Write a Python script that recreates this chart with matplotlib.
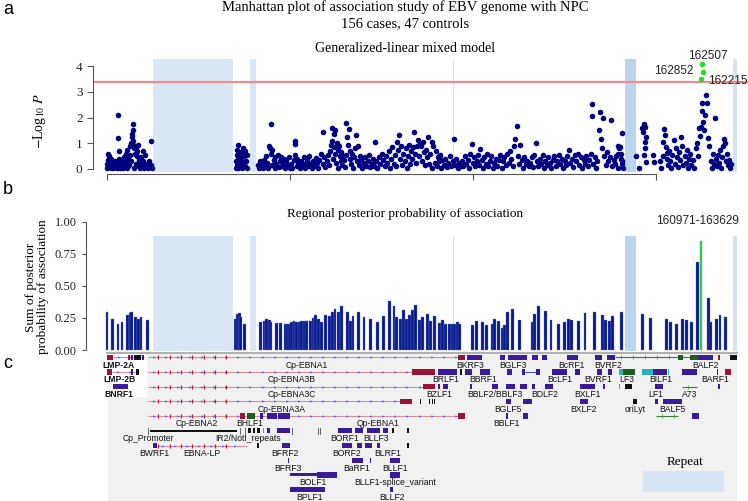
import numpy as np
import matplotlib
matplotlib.use('Agg')
import matplotlib.pyplot as plt
from matplotlib.patches import Rectangle

W, H = 748, 501
plt.rcParams['mathtext.fontset'] = 'stix'
SERIF = 'Liberation Serif'
SANS = 'Liberation Sans'

# ------------------------------------------------------------------ data
# repeat regions (kb)
repeat_regions = [(12.5, 34.5), (39.2, 40.6), (94.5, 94.8), (141.5, 144.5), (171.0, 172.2)]
repeat_shade = ['#d9e7f4', '#d9e7f4', '#d3e3f3', '#bcd5ee', '#d3e3f3']

# panel a: SNP positions (kb) and -log10 P, grouped by genome region
snp_region1 = [(0.0,0.05),(0.0,0.2),(0.2,0.35),(0.3,0.6),(0.5,0.5),(0.6,0.1),(0.8,0.3),(1.0,0.02),(1.2,0.4),
    (1.3,0.15),(1.6,0.05),(1.8,0.25),(2.0,0.08),(2.2,0.33),(2.4,0.2),(2.6,0.02),(2.8,0.12),(3.0,0.3),(3.1,2.09),
    (3.1,1.19),(3.2,0.71),(3.4,0.4),(3.5,0.05),(3.7,0.22),(3.9,0.13),(4.1,0.35),(4.3,0.02),(4.5,0.18),(4.7,0.45),
    (4.9,0.1),(5.1,0.28),(5.3,0.6),(5.5,0.05),(5.6,0.75),(5.8,0.4),(6.0,0.15),(6.2,0.9),(6.3,0.55),(6.5,1.0),
    (6.6,0.3),(6.8,1.23),(6.9,1.36),(7.0,1.5),(7.1,1.1),(7.2,1.75),(7.3,0.8),(7.4,0.02),(7.6,0.9),(7.7,0.6),
    (7.9,0.84),(8.0,0.2),(8.1,0.71),(8.3,0.52),(8.5,0.95),(8.6,0.1),(8.8,0.35),(9.0,0.05),(9.2,0.25),(9.4,0.45),
    (9.6,0.12),(9.8,0.3),(9.9,0.7),(10.0,0.02),(10.3,0.2),(10.4,0.55),(10.6,0.08),(10.9,0.18),(11.2,0.05),
    (11.5,0.3),(12.0,1.08),(12.0,0.15),(12.3,0.02)]
snp_region2 = [(35.3,0.05),(35.3,0.3),(35.4,0.55),(35.5,0.15),(35.6,0.74),(35.7,0.4),(35.8,0.93),(35.9,0.02),
    (36.0,0.2),(36.1,0.6),(36.2,0.45),(36.4,0.1),(36.5,0.35),(36.6,0.65),(36.8,0.02),(37.0,0.25),(37.2,0.8),
    (37.4,0.5),(37.6,0.1),(37.8,0.7),(38.0,0.3),(38.2,0.05),(38.3,0.55)]
snp_region3 = [(41.3,0.15),(41.5,0.05),(41.8,0.3),(42.0,0.08),(42.3,0.2),(42.6,0.02),(42.9,0.35),(43.2,0.12),
    (43.5,0.5),(43.7,0.25),(44.0,0.05),(44.2,0.9),(44.5,0.8),(44.8,1.74),(44.8,0.6),(45.0,0.15),(45.2,0.72),
    (45.5,0.35),(45.8,0.02),(46.0,0.45),(46.3,0.2),(46.6,0.55),(46.9,0.08),(47.2,0.3),(47.5,0.45),(47.8,0.1),
    (48.1,0.25),(48.4,0.38),(48.7,0.02),(49.0,0.3),(49.3,0.15),(49.6,0.45),(49.9,0.05)]
snp_region4 = [(50.3,0.2),(50.6,0.02),(51.0,0.35),(51.4,1.1),(51.4,0.96),(51.5,0.55),(51.8,0.4),(52.0,0.1),
    (52.3,0.25),(52.7,0.02),(53.0,0.3),(53.3,0.15),(53.7,0.45),(54.0,0.05),(54.3,0.22),(54.6,0.35),(55.0,0.1),
    (55.3,0.5),(55.6,0.2),(56.0,0.02),(56.3,0.3),(56.6,0.12),(57.0,0.42),(57.3,0.25),(57.6,0.05),(58.0,0.35),
    (58.4,0.6),(58.9,1.45),(59.0,0.2),(59.3,0.45),(59.6,0.08),(60.0,0.3),(60.3,0.55),(60.6,0.15),(61.0,0.7),
    (61.2,0.95),(61.4,1.58),(61.5,1.1),(61.7,0.4),(61.9,1.35),(62.0,0.85),(62.2,1.52),(62.4,0.6),(62.6,0.25),
    (62.8,1.0),(63.0,0.72),(63.2,0.05),(63.4,0.9),(63.6,0.5),(63.8,0.3),(64.0,0.65),(64.2,0.15),(64.4,0.5),
    (64.7,0.35),(65.0,0.08),(65.2,1.78),(65.4,0.55),(65.6,1.25),(65.8,0.95),(66.1,1.55),(66.3,0.4),(66.5,0.7),
    (66.7,0.2),(66.9,0.6),(67.1,0.02),(67.4,0.45),(67.7,0.8),(68.1,1.32),(68.3,0.3),(68.6,0.9),(68.9,0.15),
    (69.2,0.5),(69.5,0.35),(69.8,0.05),(70.1,0.25),(70.5,0.45),(70.8,0.12),(71.2,0.3),(71.5,0.55),(71.9,0.08),
    (72.3,0.2),(72.7,0.4),(73.0,0.1),(73.2,1.06),(73.5,0.3),(73.9,0.02),(74.3,0.45),(74.7,0.2),(75.1,0.6),
    (75.5,0.35),(75.9,0.1),(76.3,0.5),(76.6,0.25),(77.0,0.7),(77.3,0.05),(77.6,0.4),(78.0,0.85),(78.3,0.2),
    (78.6,0.55),(79.0,0.1),(79.2,1.05),(79.5,0.75),(79.9,1.32),(80.1,0.4),(80.4,0.9),(80.7,0.15),(81.0,0.6),
    (81.3,0.3),(81.6,0.8),(81.9,0.05),(82.2,0.5),(82.5,0.95),(82.8,0.2),(83.1,0.7),(83.4,0.4),(83.7,0.87),
    (83.9,1.45),(84.1,0.6),(84.4,0.25),(84.6,0.91),(85.0,1.12),(85.2,0.5),(85.5,0.96),(85.8,0.9),(86.0,0.3),
    (86.4,1.04),(86.5,0.65),(86.8,0.15),(87.1,0.75),(87.4,0.45),(87.6,1.26),(88.0,0.2),(88.3,0.6),(88.7,1.04),
    (88.9,0.02),(89.2,0.91),(89.5,0.25),(89.8,0.7),(90.1,0.1),(90.4,0.45),(90.7,0.3),(91.0,0.55),(91.3,0.05),
    (91.6,0.35),(92.0,0.15),(92.4,0.4),(92.8,0.08),(93.2,0.25),(93.6,0.5),(94.0,0.1),(94.4,0.3),(94.9,1.18),
    (95.1,0.15),(95.4,0.4),(95.8,0.05),(96.2,0.25),(96.6,0.1)]
snp_region5 = [(97.0,0.3),(97.4,0.1),(97.8,0.5),(98.2,0.2),(98.6,0.35),(99.0,0.05),(99.3,0.6),(99.6,0.97),
    (99.9,0.25),(100.3,0.45),(100.6,0.1),(101.0,0.3),(101.3,0.55),(101.7,0.15),(102.0,0.78),(102.4,0.35),
    (102.8,0.05),(103.1,0.45),(103.5,0.2),(103.9,0.6),(104.2,0.1),(104.6,0.3),(105.0,0.5),(105.4,0.02),
    (105.8,0.25),(106.2,0.4),(106.6,0.12),(107.0,0.35),(107.4,0.55),(107.8,0.05),(108.2,0.3),(108.6,0.45),
    (109.0,0.15),(109.4,0.6),(109.8,0.25),(110.2,0.7),(110.5,0.4),(110.8,0.1),(111.2,0.9),(111.5,1.16),
    (111.9,1.68),(112.2,0.5),(112.5,0.2),(112.9,0.93),(113.3,0.35),(113.6,0.05),(114.0,0.45),(114.4,0.2),
    (114.8,0.3),(115.2,0.1),(115.6,0.25),(116.0,0.45),(116.4,0.08),(116.8,0.55),(117.1,1.02),(117.4,0.3),
    (117.8,0.1),(118.2,0.4),(118.6,0.2),(119.0,0.55),(119.4,0.05),(119.8,0.3),(120.2,0.15),(120.6,0.45),
    (121.0,0.25),(121.4,0.02),(121.8,0.35),(122.2,0.5),(122.6,0.1),(123.0,0.3),(123.4,0.55),(123.8,0.2),
    (124.2,0.4),(124.6,0.05),(125.0,0.3),(125.4,0.15),(125.8,0.5),(126.3,0.74),(126.6,0.25),(127.0,0.4),
    (127.4,0.08),(127.8,0.55),(128.2,0.3),(128.6,0.6),(129.0,0.15),(129.4,0.45),(129.8,0.02),(130.2,0.35),
    (130.6,0.2),(131.0,0.5)]
snp_region6 = [(131.4,0.1),(131.8,0.35),(132.2,0.6),(132.4,2.52),(132.6,2.06),(132.8,0.2),(133.2,0.45),
    (133.6,0.05),(134.0,0.3),(134.4,1.52),(134.7,2.2),(135.0,1.17),(135.3,0.8),(135.6,1.99),(135.9,0.5),
    (136.3,0.15),(136.7,0.65),(137.0,0.3),(137.4,0.45),(137.6,1.91),(138.0,0.1),(138.4,0.35),(138.8,0.2),
    (139.2,0.5),(139.5,0.59),(139.6,0.05),(139.7,0.91),(139.9,0.8),(140.2,0.85),(140.4,0.6),(140.5,0.4),
    (140.6,1.42),(140.7,0.2),(140.8,0.3),(141.0,0.05)]
snp_region7 = [(144.5,0.52),(145.4,0.05),(146.3,1.58),(146.5,1.45),(146.6,1.74),(146.8,0.55),(146.9,1.65),
    (147.0,1.04),(147.1,0.8),(147.3,1.26),(147.3,0.29),(149.2,0.55),(149.4,0.29)]
snp_region8 = [(151.2,0.3),(151.5,0.05),(151.8,0.5),(152.0,1.04),(152.3,1.56),(152.5,1.32),(152.7,0.85),
    (152.9,0.62),(153.1,0.4),(153.3,0.15),(153.6,0.7),(153.9,0.3),(154.2,0.02),(154.5,0.55),(154.8,1.13),
    (155.1,0.2),(155.4,0.8),(155.7,0.45),(156.0,0.08),(156.3,0.65),(156.6,0.35),(156.9,1.23),(157.2,0.9),
    (157.5,0.15),(157.8,0.5),(158.1,0.25),(158.4,0.75),(158.7,0.02),(159.0,0.4),(159.3,0.6),(159.6,0.15),
    (160.0,0.35),(160.4,0.05),(160.8,0.8),(161.2,1.0),(161.5,0.5),(161.8,1.58),(162.0,1.3),(162.3,1.65),
    (162.5,2.27),(162.7,2.58),(162.9,1.84),(163.1,1.52),(163.4,2.1),(163.7,2.88),(164.0,2.55),(164.3,1.2),
    (164.6,0.9),(164.9,0.3),(165.2,0.05),(165.5,0.6),(165.8,0.2),(166.1,1.97),(166.3,0.4),(166.6,0.1),
    (166.9,0.55),(167.2,0.25),(167.5,0.75),(167.8,0.05),(168.1,0.45),(168.4,0.9),(168.7,1.17),(168.9,1.0),
    (169.1,0.3),(169.4,0.6),(169.7,0.15),(170.0,0.35),(170.3,0.02),(170.6,0.2)]
snp_regions = [snp_region1, snp_region2, snp_region3, snp_region4,
               snp_region5, snp_region6, snp_region7, snp_region8]

top_kb = [162.215, 162.507, 162.852]
top_logp = [3.49, 4.07, 3.76]
top_labels = ['162215', '162507', '162852']
threshold = 3.4

# panel b: regional posterior probability (window position kb, sum of PP)
bar_kb = [0.0,1.4,3.0,4.1,5.7,6.3,6.8,7.9,8.7,9.3,11.1,35.2,35.7,36.1,36.5,37.6,42.0,42.9,43.6,44.3,44.8,
    46.2,47.5,48.8,49.4,49.9,50.5,51.1,51.8,52.5,53.2,53.9,54.6,55.5,56.3,57.0,57.9,58.7,59.6,60.9,61.6,62.3,
    63.3,64.1,65.7,66.6,67.2,68.8,70.2,71.9,73.8,75.5,77.1,78.4,79.2,80.1,81.0,81.9,82.6,83.5,84.4,85.3,86.3,
    87.5,88.5,89.4,90.8,91.7,92.6,93.5,94.3,94.9,95.7,96.4,99.8,101.0,102.5,103.7,105.3,105.8,106.9,108.0,
    108.7,109.5,110.7,112.8,116.2,116.9,118.0,119.9,121.3,123.3,124.9,126.2,127.0,128.8,130.6,133.1,135.4,
    136.3,137.2,138.2,140.6,146.4,148.6,152.9,154.0,155.7,157.2,158.4,159.8,161.3,162.3,164.3,165.0,166.6,
    167.5,168.9]
bar_pp = [0.30,0.24,0.20,0.22,0.27,0.29,0.295,0.255,0.245,0.255,0.235,0.245,0.285,0.29,0.26,0.205,0.22,0.225,
    0.24,0.235,0.22,0.21,0.21,0.20,0.20,0.20,0.215,0.225,0.22,0.22,0.225,0.225,0.225,0.225,0.25,0.27,0.24,0.22,
    0.27,0.265,0.30,0.32,0.30,0.34,0.295,0.225,0.265,0.295,0.26,0.245,0.22,0.265,0.38,0.345,0.255,0.245,0.31,
    0.245,0.275,0.315,0.355,0.235,0.255,0.285,0.225,0.265,0.21,0.235,0.20,0.20,0.20,0.20,0.215,0.20,0.195,
    0.225,0.22,0.195,0.20,0.245,0.23,0.175,0.195,0.30,0.32,0.235,0.215,0.28,0.345,0.305,0.235,0.205,0.22,
    0.245,0.235,0.225,0.29,0.30,0.27,0.235,0.23,0.265,0.295,0.28,0.25,0.245,0.215,0.205,0.245,0.235,0.22,
    0.69,0.85,0.41,0.22,0.245,0.275,0.26]
top_window = '160971-163629'
top_window_kb = 162.3

# panel c: gene track (row, start kb, end kb, kind)
track_lines = [(0,1.6,10.1,'pink'),(0,11.2,95.9,'pink'),(0,138.8,159.3,'green'),
    (1,1.4,8.7,'pink'),(1,11.2,83.3,'pink'),(1,114.2,117.2,'blue'),
    (2,11.2,86.3,'pink'),(2,157.1,161.2,'green'),(3,11.2,80.1,'pink'),
    (4,11.2,95.9,'pink'),(4,150.0,156.0,'green'),(6,13.7,38.3,'pink')]
track_boxes = [
    (0,0,1.6,'r'),(0,5.7,6.3,'r'),(0,6.5,7.0,'p'),(0,7.4,9.3,'k'),(0,9.6,10.1,'p'),(0,95.9,97.8,'r'),
    (0,98.4,102.5,'p'),(0,107.4,108.7,'p'),(0,109.6,114.8,'p'),(0,116.1,117.8,'p'),(0,118.9,120.2,'p'),
    (0,125.7,128.7,'p'),(0,133.3,135.2,'p'),(0,136.6,138.8,'p'),(0,156.0,157.4,'g'),(0,159.3,161.5,'g'),
    (0,161.5,165.6,'p'),(0,166.9,167.5,'r'),(0,170.2,172.1,'k'),
    (1,0,1.4,'r'),(1,6.5,7.0,'p'),(1,7.9,8.7,'k'),(1,83.3,89.6,'r'),(1,90.4,95.6,'p'),(1,96.4,97.0,'k'),
    (1,97.8,99.7,'p'),(1,101.9,104.6,'p'),(1,109.3,110.7,'p'),(1,113.4,114.2,'p'),(1,117.2,118.3,'p'),
    (1,121.6,125.7,'p'),(1,127.9,129.2,'p'),(1,133.9,135.2,'p'),(1,136.9,138.0,'p'),(1,139.9,141.0,'t'),
    (1,141.0,144.3,'g'),(1,146.2,149.2,'t'),(1,149.2,153.0,'p'),(1,153.2,153.5,'t'),(1,157.1,161.2,'p'),
    (1,166.6,166.9,'p'),(1,168.9,170.5,'r'),
    (2,1.6,5.7,'p'),(2,86.3,89.6,'r'),(2,90.4,91.0,'p'),(2,91.8,93.2,'p'),(2,99.2,99.7,'p'),(2,105.2,106.8,'p'),
    (2,109.0,111.5,'p'),(2,112.8,114.8,'p'),(2,116.1,116.9,'p'),(2,119.7,121.9,'p'),(2,129.2,133.3,'p'),
    (2,135.5,136.1,'p'),(2,139.9,140.2,'t'),(2,141.5,143.4,'k'),(2,149.7,151.9,'p'),(2,166.9,167.5,'p'),
    (3,80.1,83.3,'r'),(3,85.4,85.7,'k'),(3,88.0,88.3,'k'),(3,88.7,89.0,'k'),(3,89.3,89.6,'k'),
    (3,109.0,110.4,'p'),(3,113.7,116.1,'p'),(3,129.2,131.4,'p'),(3,143.7,144.8,'k'),(3,149.7,150.5,'p'),
    (3,151.9,157.1,'p'),
    (4,36.3,37.7,'r'),(4,38.3,40.4,'g'),(4,41.8,42.6,'p'),(4,43.7,46.4,'p'),(4,46.7,50.0,'p'),(4,95.9,97.8,'r'),
    (4,109.0,109.6,'p'),(4,113.7,115.0,'p'),(4,159.8,161.7,'p'),
    (5,11.7,35.5,'k2'),(5,38.5,39.3,'k'),(5,39.8,40.5,'k'),(5,40.9,41.8,'k'),(5,42.5,42.8,'t'),
    (5,43.7,44.5,'p'),(5,46.4,50.0,'p'),(5,63.1,66.9,'p'),(5,67.8,69.9,'p'),(5,71.0,74.6,'p'),
    (5,75.4,76.8,'p'),(5,78.0,78.3,'k'),(5,82.0,82.4,'k'),
    (6,12.6,13.7,'p'),(6,41.0,41.4,'k'),(6,47.8,50.0,'p'),(6,64.2,66.9,'p'),(6,68.3,69.7,'p'),
    (6,70.5,72.4,'p'),(6,73.8,74.6,'p'),(6,82.0,82.4,'k'),
    (7,49.4,49.7,'p'),(7,66.9,69.9,'p'),(7,71.8,72.1,'p'),(7,77.3,80.1,'p'),
    (8,50.0,57.4,'p2'),(8,57.4,62.8,'p'),(8,77.3,80.1,'p'),
    (9,50.0,59.6,'p'),(9,77.3,78.1,'p')]
track_ticks = [(5,11.2),(5,36.3),(5,37.7),(5,50.5),(5,57.7),(5,58.2)]
w_exons_kb = [14.0, 17.1, 20.2, 23.3, 26.4, 29.5, 32.6]
track_labels = [
    ('LMP-2A',0,3.1,True),('Cp-EBNA1',0,54.6,False),('BKRF3',0,99.2,False),('BGLF3',0,110.9,False),
    ('BcRF1',0,127.0,False),('BVRF2',0,136.9,False),('BALF2',0,163.4,False),
    ('LMP-2B',1,3.4,True),('Cp-EBNA3B',1,50.5,False),('BRLF1',1,92.6,False),('BBRF1',1,102.7,False),
    ('BcLF1',1,123.8,False),('BVRF1',1,134.2,False),('LF3',1,142.1,False),('BILF1',1,151.4,False),
    ('BARF1',1,166.1,False),
    ('BNRF1',2,3.3,True),('Cp-EBNA3C',2,50.5,False),('BZLF1',2,90.7,False),('BBLF2/BBLF3',2,106.0,False),
    ('BDLF2',2,119.7,False),('BXLF1',2,131.4,False),('LF1',2,150.0,False),('A73',2,159.3,False),
    ('Cp-EBNA3A',3,47.8,False),('BGLF5',3,109.6,False),('BXLF2',3,130.3,False),('oriLyt',3,144.3,False),
    ('BALF5',3,154.4,False),
    ('Cp-EBNA2',4,24.6,False),('BHLF1',4,39.1,False),('Qp-EBNA1',4,74.0,False),('BBLF1',4,109.0,False),
    ('Cp_Promoter',5,11.2,False),('IR2/NotI_repeats',5,38.5,False),('BORF1',5,64.8,False),('BLLF3',5,73.5,False),
    ('BWRF1',6,12.8,False),('EBNA-LP',6,26.0,False),('BFRF2',6,48.6,False),('BORF2',6,65.6,False),
    ('BLRF1',6,76.8,False),
    ('BFRF3',7,49.5,False),('BaRF1',7,68.3,False),('BLLF1',7,78.7,False),
    ('BOLF1',8,56.3,False),('BLLF1-splice_variant',8,78.7,False),
    ('BPLF1',9,55.2,False),('BLLF2',9,77.9,False)]

# ------------------------------------------------------------------ layout helpers
fig = plt.figure(figsize=(W/100, H/100), dpi=100)

def add_ax(x0, y0, x1, y1):
    return fig.add_axes([x0/W, 1 - y1/H, (x1 - x0)/W, (y1 - y0)/H])

PX0, PXK = 107.0, 3.66   # pixel of kb 0, pixels per kb
def xlim_for(x0, x1):
    return ((x0 - PX0)/PXK, (x1 - PX0)/PXK)

NAVY = '#000080'
BARC = '#071a8c'
GREEN = '#22dd22'

# ------------------------------------------------------------------ panel a
axa = add_ax(93, 55, 748, 174)
axa.set_xlim(*xlim_for(93, 748))
axa.set_ylim(-0.195, 4.436)
for (s, e), c in zip(repeat_regions, repeat_shade):
    axa.add_patch(Rectangle((s, -0.1), e - s, 4.38, color=c, lw=0, zorder=0))
axa.axhline(threshold, color='#f28b8b', lw=1.6, zorder=1)
for reg in snp_regions:
    kb, lp = zip(*reg)
    axa.scatter(kb, lp, s=16, c=NAVY, linewidths=0, zorder=3)
axa.scatter(top_kb, top_logp, s=16, c=GREEN, linewidths=0, zorder=4)
lab_fs = 8.5
axa.text(top_kb[1] + 1.6, top_logp[1] + 0.32, top_labels[1], ha='center', va='center',
         fontsize=lab_fs, family=SANS, color='#222222')
axa.text(top_kb[2] - 2.5, top_logp[2] + 0.05, top_labels[2], ha='right', va='center',
         fontsize=lab_fs, family=SANS, color='#222222')
axa.text(top_kb[0] + 1.9, top_logp[0] - 0.05, top_labels[0], ha='left', va='center',
         fontsize=lab_fs, family=SANS, color='#222222')
for sp in ['top', 'right']:
    axa.spines[sp].set_visible(False)
axa.spines['left'].set_bounds(0, 4)
axa.spines['bottom'].set_bounds(0, 150)
for sp in ['left', 'bottom']:
    axa.spines[sp].set_color('#555555')
    axa.spines[sp].set_linewidth(0.8)
axa.set_yticks([0, 1, 2, 3, 4])
axa.set_xticks([0, 50, 100, 150])
axa.set_xticklabels([])
axa.tick_params(axis='both', colors='#555555', length=4, width=0.8, labelcolor='#222222',
                labelsize=9.5)
for t in axa.get_yticklabels():
    t.set_family(SERIF)
fig.text(405/W, 1 - 52/H, 'Generalized-linear mixed model', ha='center', va='baseline',
         family=SERIF, fontsize=10)

fig.text(40/W, 1 - 121/H, r'$-$Log$_{10}$ $P$', rotation=90, ha='center', va='center',
         fontsize=10, family=SERIF)

# ------------------------------------------------------------------ panel b
axb = add_ax(86, 218, 748, 352)
axb.set_xlim(*xlim_for(86, 748))
axb.set_ylim(-0.0156, 1.031)
for (s, e), c in zip(repeat_regions, repeat_shade):
    axb.add_patch(Rectangle((s, -0.01), e - s, 0.9, color=c, lw=0, zorder=0))
bar_cols = [GREEN if abs(k - top_window_kb) < 0.05 else BARC for k in bar_kb]
axb.bar(bar_kb, bar_pp, width=0.78, color=bar_cols, edgecolor='#6a78c4', linewidth=0.25, zorder=2)
axb.text(172.6, 0.985, top_window, ha='right', va='baseline', fontsize=8.5, family=SANS, color='#222222')
for sp in ['top', 'right', 'bottom']:
    axb.spines[sp].set_visible(False)
axb.spines['left'].set_bounds(0, 1)
axb.spines['left'].set_color('#555555')
axb.spines['left'].set_linewidth(0.8)
axb.set_xticks([])
axb.set_yticks([0, 0.25, 0.5, 0.75, 1.0])
axb.set_yticklabels(['0.00', '0.25', '0.50', '0.75', '1.00'])
axb.tick_params(axis='y', colors='#555555', length=3, width=0.8, labelcolor='#222222', labelsize=9)
for t in axb.get_yticklabels():
    t.set_family(SERIF)
fig.text(405/W, 1 - 216.5/H, 'Regional posterior probability of association', ha='center',
         va='baseline', family=SERIF, fontsize=9.5)
fig.text(37/W, 1 - 287/H, 'Sum of posterior\nprobability of association', rotation=90,
         ha='center', va='center', family=SERIF, fontsize=9.5, linespacing=1.05)

# ------------------------------------------------------------------ panel c
axc = add_ax(86, 352, 748, 501)
axc.set_xlim(*xlim_for(86, 748))
axc.set_ylim(9.77, -0.36)
axc.axis('off')
axc.add_patch(Rectangle((0.27, -0.2), 171.8, 10.0, color='#f1f1f1', lw=0, zorder=0))
axc.add_patch(Rectangle((-1.5, -0.2), 12.4, 2.92, color='white', lw=0, zorder=0))
axc.plot([0, 172.2], [-0.27, -0.27], color='#a9a9a9', lw=1.3, zorder=1)

box_col = {'p': '#3b1a9a', 'p2': '#3b1a9a', 'r': '#9a1238', 'g': '#1d5e1d', 'k': '#111111',
           'k2': '#111111', 't': '#2ab3b3'}
box_h = {'p': 0.36, 'p2': 0.2, 'r': 0.36, 'g': 0.36, 'k': 0.36, 'k2': 0.18, 't': 0.36}
line_col = {'pink': '#d98f9b', 'green': '#3a7a3a', 'blue': '#5050d0'}
for r, s, e, kind in track_lines:
    axc.plot([s, e], [r, r], color=line_col[kind], lw=0.8, zorder=2, solid_capstyle='butt')
    if kind == 'pink':
        xs = np.arange(s + 1.6, e - 0.5, 3.3)
        axc.plot(xs, [r]*len(xs), ls='none', marker='>', ms=1.8, color='#5a5aee', mew=0, zorder=3)
    elif kind == 'green':
        xs = np.arange(s + 1.6, e - 0.5, 3.3)
        axc.plot(xs, [r]*len(xs), ls='none', marker='|', ms=2.5, color='#4a9a4a', mew=0.6, zorder=3)
for r in [0, 1, 2, 3, 4, 6]:
    axc.plot(w_exons_kb, [r]*len(w_exons_kb), ls='none', marker='|', ms=3.5, mew=0.9,
             color='#b0213f', zorder=3)
for r, s, e, kind in track_boxes:
    h = box_h[kind]
    axc.add_patch(Rectangle((s, r - h/2), max(e - s, 0.25), h, color=box_col[kind], lw=0, zorder=4))
for r, x in track_ticks:
    axc.plot([x, x], [r - 0.2, r + 0.2], color='#666666', lw=0.7, zorder=3)
for name, r, x, bold in track_labels:
    axc.text(x, r + 0.53, name, ha='center', va='center', fontsize=6.2, family=SANS,
             fontweight='bold' if bold else 'normal', color='#111111', zorder=5)
# repeat legend
axc.add_patch(Rectangle((146.4, 7.73), 22.2, 1.43, color='#d5e4f2', lw=0, zorder=4))
axc.text(157.9, 7.1, 'Repeat', ha='center', va='center', family=SERIF, fontsize=9.5, zorder=5)

# ------------------------------------------------------------------ titles & panel letters
fig.text(405/W, 1 - 11/H, 'Manhattan plot of association study of EBV genome with NPC',
         ha='center', va='baseline', family=SERIF, fontsize=10.5)
fig.text(405/W, 1 - 27/H, '156 cases, 47 controls', ha='center', va='baseline',
         family=SERIF, fontsize=10.5)
for letter, y in [('a', 10), ('b', 190), ('c', 364)]:
    fig.text(3/W, 1 - y/H, letter, ha='left', va='center', family=SANS, fontsize=13)

fig.savefig('out.png', dpi=100)
